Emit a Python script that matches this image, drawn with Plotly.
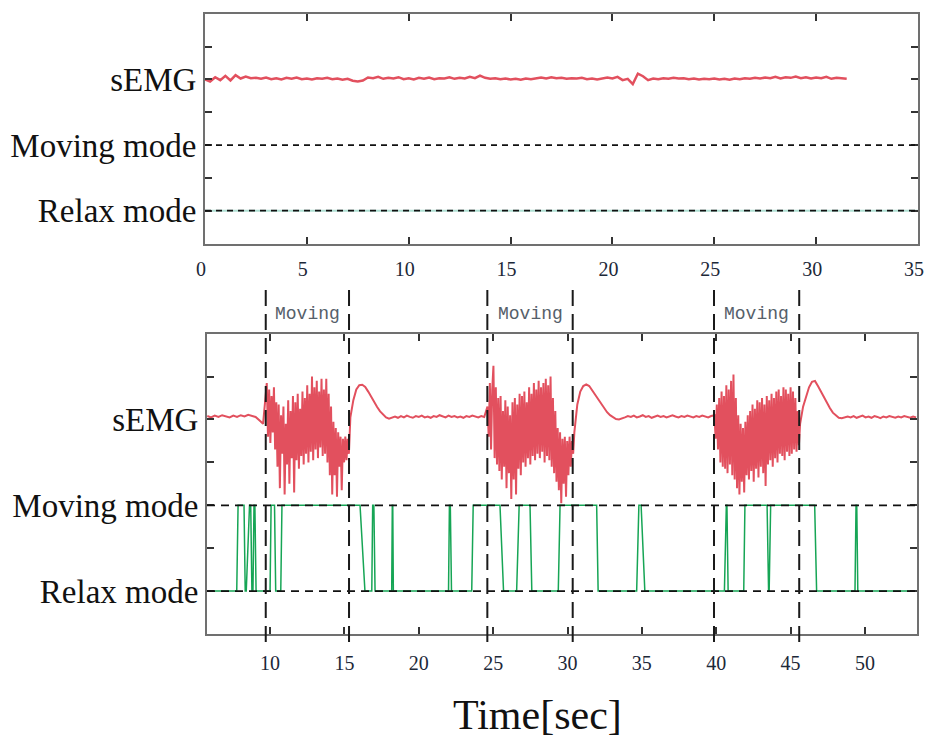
import numpy as np
import plotly.graph_objects as go

# ---------------- data ----------------
ytick_vals = [1, 2, 3, 4, 5, 6]
ytick_text = ["Relax mode", "", "Moving mode", "", "sEMG", ""]
relax_level = 1
moving_level = 3

top_xticks = [0, 5, 10, 15, 20, 25, 30, 35]
bottom_xticks = [10, 15, 20, 25, 30, 35, 40, 45, 50]

# top panel: sEMG sampled every 0.25 s from t = 0
top_semg_start, top_semg_dt = 0.0, 0.25
top_semg_vals = [
    5.00, 4.94, 5.07, 4.98, 5.11, 4.97, 5.13, 5.03, 5.09, 5.04,
    5.05, 5.02, 5.06, 5.01, 5.04, 5.00, 5.05, 5.02, 5.06, 5.01,
    5.03, 5.00, 5.04, 5.02, 5.05, 5.01, 5.03, 4.99, 5.02, 4.96,
    4.94, 4.97, 5.06, 5.04, 5.08, 5.02, 5.05, 5.03, 5.07, 5.01,
    5.04, 5.00, 5.05, 5.02, 5.06, 5.01, 5.04, 5.03, 5.07, 5.02,
    5.05, 5.03, 5.08, 5.04, 5.12, 5.05, 5.02, 5.04, 5.01, 5.03,
    5.00, 5.02, 4.99, 5.03, 5.01, 5.04, 5.06, 5.03, 5.07, 5.04,
    5.05, 5.02, 5.04, 5.03, 5.05, 5.01, 5.03, 5.00, 5.04, 5.06,
    5.03, 5.08, 4.98, 5.02, 4.86, 5.18, 5.10, 4.98, 5.03, 5.01,
    5.04, 5.02, 5.05, 5.03, 5.04, 5.01, 5.03, 5.00, 5.02, 5.01,
    5.03, 5.00, 5.02, 4.99, 5.03, 5.01, 5.04, 5.02, 5.05, 5.03,
    5.06, 5.04, 5.08, 5.03, 5.07, 5.05, 5.09, 5.04, 5.07, 5.03,
    5.06, 5.04, 5.08, 5.02, 5.05, 5.03, 5.02,
]
top_mode_t = [0.0, 35.0]
top_mode_v = [1, 1]

# bottom panel: sEMG in segments (start time, sampling step, values)
quiet1_start, quiet1_dt = 5.78, 0.25
quiet1_vals = [5.08, 5.05, 5.09, 5.06, 5.10, 5.07, 5.05, 5.09, 5.06, 5.10,
               5.07, 5.11, 5.08, 5.06, 4.98, 4.90]

burst1_start, burst1_dt = 9.78, 0.08
burst1_vals = [5.85, 4.60, 5.70, 4.45, 5.55, 4.70, 5.75, 4.30, 5.40, 3.90,
               5.35, 3.40, 5.10, 4.20, 5.30, 3.25, 4.90, 3.95, 5.45, 3.50,
               5.20, 4.10, 5.55, 3.30, 5.40, 4.05, 5.60, 3.85, 5.25, 4.15,
               5.65, 3.95, 5.50, 4.20, 5.80, 4.00, 5.60, 4.25, 6.00, 4.05,
               5.75, 4.30, 5.90, 4.10, 5.65, 4.35, 5.95, 4.15, 5.70, 4.20,
               5.95, 4.00, 5.60, 3.70, 5.30, 3.25, 4.95, 3.70, 4.80, 3.20,
               4.70, 3.90, 4.60, 3.35, 4.55, 4.00, 4.60, 4.05, 4.55, 4.20]

rest1_start, rest1_dt = 15.40, 0.2
rest1_vals = [5.05, 5.45, 5.70, 5.80, 5.81, 5.76, 5.65, 5.52, 5.40, 5.29,
              5.19, 5.11, 5.05, 5.02, 5.04, 5.07, 5.04, 5.08, 5.05, 5.09,
              5.06, 5.04, 5.08, 5.06, 5.09, 5.05, 5.07, 5.04, 5.08, 5.06,
              5.10, 5.07, 5.05, 5.09, 5.06, 5.08, 5.05, 5.07, 5.04, 5.08,
              5.06, 5.09, 5.07, 5.05, 5.08, 5.06]

burst2_start, burst2_dt = 24.62, 0.08
burst2_vals = [5.30, 4.60, 5.85, 4.30, 5.70, 6.25, 4.10, 5.75, 3.95, 5.50,
               3.80, 5.55, 3.60, 5.20, 3.90, 5.45, 3.40, 5.30, 3.75, 5.10,
               3.15, 5.40, 3.60, 5.50, 3.25, 5.35, 3.85, 5.60, 3.70, 5.55,
               4.00, 5.65, 3.90, 5.40, 4.10, 5.75, 3.95, 5.60, 4.15, 5.85,
               4.05, 5.70, 4.20, 5.90, 4.10, 5.75, 4.25, 5.85, 4.00, 5.95,
               4.15, 5.80, 4.05, 6.00, 3.90, 5.50, 3.75, 5.20, 3.55, 4.80,
               3.35, 4.70, 3.05, 4.55, 3.50, 4.60, 3.20, 4.50, 3.70, 4.60,
               3.90, 4.50, 4.20]

rest2_start, rest2_dt = 30.46, 0.2
rest2_vals = [4.70, 5.35, 5.65, 5.78, 5.82, 5.78, 5.68, 5.57, 5.46, 5.35,
              5.25, 5.17, 5.10, 5.05, 5.01, 5.00, 5.02, 5.05, 5.08, 5.06,
              5.09, 5.05, 5.07, 5.10, 5.06, 5.08, 5.04, 5.07, 5.09, 5.06,
              5.08, 5.05, 5.07, 5.10, 5.07, 5.05, 5.08, 5.06, 5.09, 5.07,
              5.05, 5.08, 5.06, 5.09, 5.07, 5.05, 5.08]

burst3_start, burst3_dt = 39.88, 0.08
burst3_vals = [5.10, 4.55, 5.35, 4.30, 5.50, 4.00, 5.65, 3.90, 5.55, 3.85,
               5.80, 3.75, 5.70, 3.95, 5.90, 3.70, 6.05, 3.60, 5.50, 3.40,
               5.10, 3.25, 4.90, 3.55, 4.80, 3.30, 4.95, 3.70, 5.10, 3.60,
               5.20, 3.80, 5.35, 3.55, 5.25, 3.85, 5.45, 3.65, 5.40, 3.90,
               5.50, 3.75, 5.35, 3.45, 5.55, 3.95, 5.45, 4.05, 5.60, 3.90,
               5.50, 4.10, 5.65, 4.00, 5.70, 4.20, 5.55, 4.15, 5.75, 4.05,
               5.70, 4.25, 5.60, 4.15, 5.75, 4.20, 5.65, 4.30, 5.50, 4.25,
               5.20, 4.40]

rest3_start, rest3_dt = 45.64, 0.2
rest3_vals = [4.90, 5.30, 5.55, 5.75, 5.88, 5.90, 5.78, 5.65, 5.50, 5.38,
              5.27, 5.16, 5.09, 5.04, 5.03, 5.05, 5.07, 5.05, 5.08, 5.04,
              5.06, 5.09, 5.05, 5.07, 5.04, 5.08, 5.06, 5.03, 5.07, 5.05,
              5.08, 5.06, 5.04, 5.07, 5.05, 5.08, 5.06, 5.04, 5.07, 5.05]

# bottom panel: detected mode (breakpoints)
mode_t = [5.76, 7.76, 7.85, 8.25, 8.33, 8.40, 8.62, 8.70, 8.78, 8.85, 8.92, 8.98, 9.06,
          10.00, 10.07, 10.30, 10.38, 10.72, 10.80, 16.05, 16.38,
          16.84, 16.90, 16.98, 17.06, 18.18, 18.22, 18.25, 18.29,
          22.00, 22.06, 22.12, 22.20, 23.56, 23.66, 25.46, 25.70,
          26.58, 26.75, 27.48, 27.60, 29.38, 29.50, 31.96, 32.06,
          34.65, 34.80, 34.95, 35.20, 40.55, 40.68, 40.72, 40.80,
          41.85, 41.93, 43.42, 43.52, 43.56, 43.66, 46.62, 46.75,
          49.33, 49.40, 49.45, 49.52, 53.50]
mode_v = [1, 1, 3, 3, 1, 1, 3, 3, 1, 1, 3, 3, 1,
          1, 3, 3, 1, 1, 3, 3, 1,
          1, 3, 3, 1, 1, 3, 3, 1,
          1, 3, 3, 1, 1, 3, 3, 1,
          1, 3, 3, 1, 1, 3, 3, 1,
          1, 3, 3, 1, 1, 3, 3, 1,
          1, 3, 3, 1, 1, 3, 3, 1,
          1, 3, 3, 1, 1]

moving_start = [9.71, 24.61, 39.85]
moving_end = [15.31, 30.35, 45.58]
moving_label = "Moving"


def seg_times(start, dt, vals):
    return [start + dt * k for k in range(len(vals))]


top_semg_t = seg_times(top_semg_start, top_semg_dt, top_semg_vals)

segments = [
    (quiet1_start, quiet1_dt, quiet1_vals),
    (burst1_start, burst1_dt, burst1_vals),
    (rest1_start, rest1_dt, rest1_vals),
    (burst2_start, burst2_dt, burst2_vals),
    (rest2_start, rest2_dt, rest2_vals),
    (burst3_start, burst3_dt, burst3_vals),
    (rest3_start, rest3_dt, rest3_vals),
]
bot_semg_t, bot_semg_v = [], []
for s, d, v in segments:
    bot_semg_t += seg_times(s, d, v)
    bot_semg_v += list(v)

# ---------------- figure ----------------
RED = "rgb(226,80,94)"
GREEN = "rgb(22,165,85)"
SERIF = "Liberation Serif, Times New Roman, serif"

fig = go.Figure()

fig.add_trace(go.Scatter(x=top_mode_t, y=top_mode_v, mode="lines",
                         line=dict(color="rgba(120,200,180,0.6)", width=2),
                         xaxis="x", yaxis="y", showlegend=False))
fig.add_trace(go.Scatter(x=top_semg_t, y=top_semg_vals, mode="lines",
                         line=dict(color=RED, width=2.5),
                         xaxis="x", yaxis="y", showlegend=False))
fig.add_trace(go.Scatter(x=mode_t, y=mode_v, mode="lines",
                         line=dict(color=GREEN, width=1.5),
                         xaxis="x2", yaxis="y2", showlegend=False))
fig.add_trace(go.Scatter(x=bot_semg_t, y=bot_semg_v, mode="lines",
                         line=dict(color=RED, width=2),
                         xaxis="x2", yaxis="y2", showlegend=False))

# horizontal dashed mode levels
for xr, yr, dash in [("x domain", "y", "6px,5px"), ("x2 domain", "y2", "8px,6px")]:
    for lev in (moving_level, relax_level):
        fig.add_shape(type="line", xref=xr, yref=yr, x0=0, x1=1, y0=lev, y1=lev,
                      line=dict(color="#111", width=1.8, dash=dash), layer="above")

# vertical dashed interval boundaries
for xs in moving_start + moving_end:
    fig.add_shape(type="line", xref="x2", yref="paper", x0=xs, x1=xs,
                  y0=-0.013, y1=0.553,
                  line=dict(color="#1a1a1a", width=2, dash="16px,8px"), layer="above")

for a, b in zip(moving_start, moving_end):
    fig.add_annotation(x=(a + b) / 2, y=0.5145, xref="x2", yref="paper",
                       text=moving_label, showarrow=False, xanchor="center", yanchor="middle",
                       font=dict(family="Liberation Mono, DejaVu Sans Mono, monospace",
                                 size=18, color="#56606a"))

fig.add_annotation(x=0.467, y=-0.130, xref="paper", yref="paper", text="Time[sec]",
                   showarrow=False, xanchor="center", yanchor="middle",
                   font=dict(family=SERIF, size=42, color="#111"))

axis_common = dict(showline=True, linecolor="#707070", linewidth=2, mirror="ticks",
                   ticks="inside", ticklen=7, tickwidth=1.5, tickcolor="#333",
                   showgrid=False, zeroline=False, automargin=False)

# the page body adds an 8 px margin, so the figure is sized to fit inside it
fig.update_layout(
    width=917, height=730,
    margin=dict(l=197, r=7, t=4, b=104),
    paper_bgcolor="white", plot_bgcolor="white",
    showlegend=False,
    xaxis=dict(domain=[0, 1], range=[0, 35], tickvals=top_xticks, anchor="y",
               tickfont=dict(family=SERIF, size=20, color="#1c2838"),
               ticklabelstandoff=6, ticklabelshift=-4, **axis_common),
    yaxis=dict(domain=[0.6278, 0.997], range=[0, 7], tickvals=ytick_vals, ticktext=ytick_text,
               anchor="x", tickfont=dict(family=SERIF, size=33, color="#111"),
               ticklabelstandoff=0, **axis_common),
    xaxis2=dict(domain=[0.0028, 0.9986], range=[5.76, 53.5], tickvals=bottom_xticks,
                anchor="y2", tickfont=dict(family=SERIF, size=20, color="#1c2838"),
                ticklabelstandoff=10, **axis_common),
    yaxis2=dict(domain=[0, 0.4828], range=[0, 7], tickvals=ytick_vals, ticktext=ytick_text,
                anchor="x2", tickfont=dict(family=SERIF, size=33, color="#111"),
                ticklabelstandoff=0, **axis_common),
)

fig.write_html("out.html")
